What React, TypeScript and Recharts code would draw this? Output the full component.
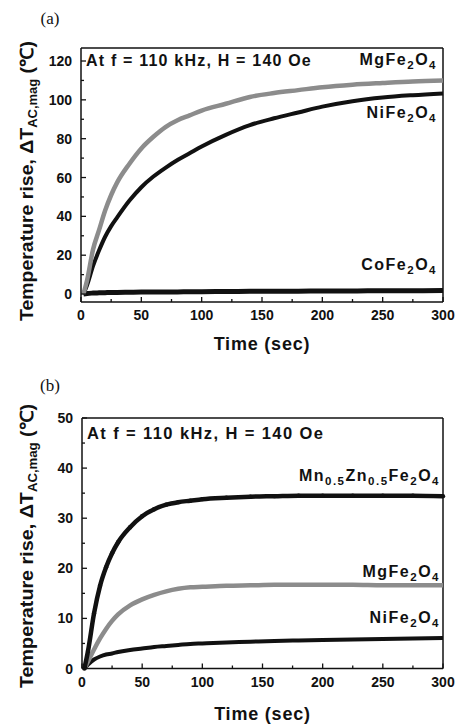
import React from "react";
import { LineChart, Line, XAxis, YAxis, Label, ReferenceLine } from "recharts";

// time points (sec) shared by all curves
const TIME = [2, 5, 10, 15, 20, 25, 30, 40, 50, 60, 70, 80, 90, 100, 120, 140, 160, 180, 200, 225, 250, 275, 300];

// panel (a)
const MG_A = [0, 7, 23, 33, 43, 51, 57.5, 67, 75, 81, 86, 89.5, 92, 94.5, 98, 101.5, 103.5, 105, 106.5, 107.8, 108.7, 109.5, 110];
const NI_A = [0, 4.5, 14.5, 22.5, 29.5, 35, 39.5, 48, 55, 60.5, 65, 69, 72.5, 76, 82, 87, 90.5, 93.5, 96.5, 99.3, 101.2, 102.4, 103.3];
const CO_A = [0, 0.3, 0.5, 0.6, 0.7, 0.8, 0.8, 0.9, 1.0, 1.0, 1.1, 1.1, 1.2, 1.2, 1.3, 1.4, 1.5, 1.5, 1.6, 1.6, 1.7, 1.7, 1.8];

// panel (b)
const MN_B = [0, 3.5, 11, 16.5, 20.2, 23, 25.2, 28.2, 30.4, 31.8, 32.7, 33.2, 33.5, 33.8, 34.1, 34.3, 34.4, 34.5, 34.5, 34.5, 34.5, 34.5, 34.4];
const MG_B = [0, 1.4, 3.8, 6.0, 7.9, 9.5, 10.8, 12.6, 13.8, 14.7, 15.4, 15.9, 16.2, 16.3, 16.5, 16.6, 16.7, 16.7, 16.7, 16.7, 16.6, 16.6, 16.6];
const NI_B = [0, 0.8, 1.8, 2.4, 2.8, 3.0, 3.3, 3.7, 4.0, 4.3, 4.5, 4.7, 4.9, 5.0, 5.2, 5.35, 5.5, 5.6, 5.7, 5.8, 5.9, 6.0, 6.1];

const X_TICKS = [0, 25, 50, 75, 100, 125, 150, 175, 200, 225, 250, 275, 300];
const Y_TICKS_A = [0, 10, 20, 30, 40, 50, 60, 70, 80, 90, 100, 110, 120];
const Y_TICKS_B = [0, 5, 10, 15, 20, 25, 30, 35, 40, 45, 50];
const Y_DOMAIN_A = [-4.1, 126.7];
const Y_DOMAIN_B = [0, 50];

const dataA = TIME.map((t, i) => ({ t, mg: MG_A[i], ni: NI_A[i], co: CO_A[i] }));
const dataB = TIME.map((t, i) => ({ t, mn: MN_B[i], mg: MG_B[i], ni: NI_B[i] }));

const SANS = "'Liberation Sans', Arial, Helvetica, sans-serif";
const SERIF = "'Liberation Serif', 'Times New Roman', serif";
const INK = "#111";
const GRAY = "#8c8c8c";

function XTick(props: any) {
  const { x, y, payload } = props;
  const major = payload.value % 50 === 0;
  return (
    <g>
      <line x1={x} x2={x} y1={y} y2={y - (major ? 5 : 3)} stroke={INK} strokeWidth={1.3} />
      {major && (
        <text x={x} y={y + 18} textAnchor="middle" fontFamily={SANS} fontWeight="bold" fontSize={14} fill={INK}>
          {payload.value}
        </text>
      )}
    </g>
  );
}

function YTick(props: any) {
  const { x, y, payload, step } = props;
  const major = payload.value % step === 0;
  return (
    <g>
      <line x1={x} x2={x + (major ? 5 : 3)} y1={y} y2={y} stroke={INK} strokeWidth={1.3} />
      {major && (
        <text x={x - 9} y={y + 5} textAnchor="end" fontFamily={SANS} fontWeight="bold" fontSize={14} fill={INK}>
          {payload.value}
        </text>
      )}
    </g>
  );
}

function Formula({ x, y, parts, size = 16 }: { x: number; y: number; parts: [string, boolean][]; size?: number }) {
  let sub = false;
  return (
    <text x={x} y={y} textAnchor="end" fontFamily={SANS} fontWeight="bold" fontSize={size} letterSpacing={1.5} fill={INK}>
      {parts.map(([s, isSub], i) => {
        const dy = isSub === sub ? 0 : isSub ? 4 : -4;
        sub = isSub;
        return (
          <tspan key={i} dy={dy} fontSize={isSub ? size * 0.72 : size}>
            {s}
          </tspan>
        );
      })}
    </text>
  );
}

function YTitle({ cx, cy, len }: { cx: number; cy: number; len: number }) {
  return (
    <text
      transform={`rotate(-90 ${cx} ${cy})`}
      x={cx}
      y={cy + 6}
      textAnchor="middle"
      fontFamily={SANS}
      fontWeight="bold"
      fontSize={18}
      fill={INK}
      textLength={len}
      lengthAdjust="spacingAndGlyphs"
    >
      Temperature rise, ΔT
      <tspan dy={4} fontSize={12}>AC,mag</tspan>
      <tspan dy={-4} fontSize={18}> (℃)</tspan>
    </text>
  );
}

const axisLine = { stroke: INK, strokeWidth: 1.5 };
const titleStyle = { fontFamily: SANS, fontWeight: "bold", fontSize: 18, fill: INK, letterSpacing: 0.8 };

export default function App() {
  return (
    <div style={{ position: "absolute", left: 0, top: 0, width: 465, height: 727, background: "#fff" }}>
      <div style={{ position: "absolute", left: 0, top: 0 }}>
        <LineChart width={465} height={360} data={dataA} margin={{ top: 48, right: 22, left: 0, bottom: 0 }}>
          <XAxis
            dataKey="t"
            type="number"
            domain={[0, 300]}
            ticks={X_TICKS}
            interval={0}
            height={58}
            tickLine={false}
            tickSize={0}
            tickMargin={0}
            axisLine={axisLine}
            tick={(p: any) => <XTick {...p} />}
          >
            <Label value="Time (sec)" position="insideBottom" offset={10} style={titleStyle} />
          </XAxis>
          <YAxis
            type="number"
            domain={Y_DOMAIN_A}
            ticks={Y_TICKS_A}
            interval={0}
            width={81}
            tickLine={false}
            tickSize={0}
            tickMargin={0}
            axisLine={axisLine}
            tick={(p: any) => <YTick {...p} step={20} />}
          />
          <ReferenceLine y={Y_DOMAIN_A[1]} stroke={INK} strokeWidth={1.5} />
          <ReferenceLine x={300} stroke={INK} strokeWidth={1.5} />
          <Line type="monotone" dataKey="co" stroke={INK} strokeWidth={5} dot={false} isAnimationActive={false} />
          <Line type="monotone" dataKey="ni" stroke={INK} strokeWidth={4} dot={false} isAnimationActive={false} />
          <Line type="monotone" dataKey="mg" stroke={GRAY} strokeWidth={4.5} dot={false} isAnimationActive={false} />
        </LineChart>
      </div>
      <div style={{ position: "absolute", left: 0, top: 370 }}>
        <LineChart width={465} height={357} data={dataB} margin={{ top: 48, right: 22, left: 0, bottom: 0 }}>
          <XAxis
            dataKey="t"
            type="number"
            domain={[0, 300]}
            ticks={X_TICKS}
            interval={0}
            height={58.5}
            tickLine={false}
            tickSize={0}
            tickMargin={0}
            axisLine={axisLine}
            tick={(p: any) => <XTick {...p} />}
          >
            <Label value="Time (sec)" position="insideBottom" offset={7} style={titleStyle} />
          </XAxis>
          <YAxis
            type="number"
            domain={Y_DOMAIN_B}
            ticks={Y_TICKS_B}
            interval={0}
            width={82}
            tickLine={false}
            tickSize={0}
            tickMargin={0}
            axisLine={axisLine}
            tick={(p: any) => <YTick {...p} step={10} />}
          />
          <ReferenceLine y={Y_DOMAIN_B[1]} stroke={INK} strokeWidth={1.5} />
          <ReferenceLine x={300} stroke={INK} strokeWidth={1.5} />
          <Line type="monotone" dataKey="ni" stroke={INK} strokeWidth={4} dot={false} isAnimationActive={false} />
          <Line type="monotone" dataKey="mg" stroke={GRAY} strokeWidth={4.5} dot={false} isAnimationActive={false} />
          <Line type="monotone" dataKey="mn" stroke={INK} strokeWidth={4.5} dot={{ r: 2.2, fill: INK, stroke: "none" }} isAnimationActive={false} />
        </LineChart>
      </div>
      <svg width={465} height={727} style={{ position: "absolute", left: 0, top: 0, pointerEvents: "none" }}>
        <text x={50} y={24} textAnchor="middle" fontFamily={SERIF} fontSize={17} fill={INK}>(a)</text>
        <text x={50} y={391} textAnchor="middle" fontFamily={SERIF} fontSize={17} fill={INK}>(b)</text>
        <YTitle cx={27} cy={181} len={280} />
        <YTitle cx={27} cy={546} len={284} />
        <text x={86} y={66} fontFamily={SANS} fontWeight="bold" fontSize={16} letterSpacing={1.2} fill={INK}>At f = 110 kHz, H = 140 Oe</text>
        <text x={87} y={439} fontFamily={SANS} fontWeight="bold" fontSize={16.5} letterSpacing={1.4} fill={INK}>At f = 110 kHz, H = 140 Oe</text>
        <Formula x={437} y={65} parts={[["MgFe", false], ["2", true], ["O", false], ["4", true]]} />
        <Formula x={437} y={118} parts={[["NiFe", false], ["2", true], ["O", false], ["4", true]]} />
        <Formula x={437} y={270} parts={[["CoFe", false], ["2", true], ["O", false], ["4", true]]} />
        <Formula x={440} y={481} parts={[["Mn", false], ["0.5", true], ["Zn", false], ["0.5", true], ["Fe", false], ["2", true], ["O", false], ["4", true]]} />
        <Formula x={440} y={577} parts={[["MgFe", false], ["2", true], ["O", false], ["4", true]]} />
        <Formula x={440} y={623} parts={[["NiFe", false], ["2", true], ["O", false], ["4", true]]} />
      </svg>
    </div>
  );
}
